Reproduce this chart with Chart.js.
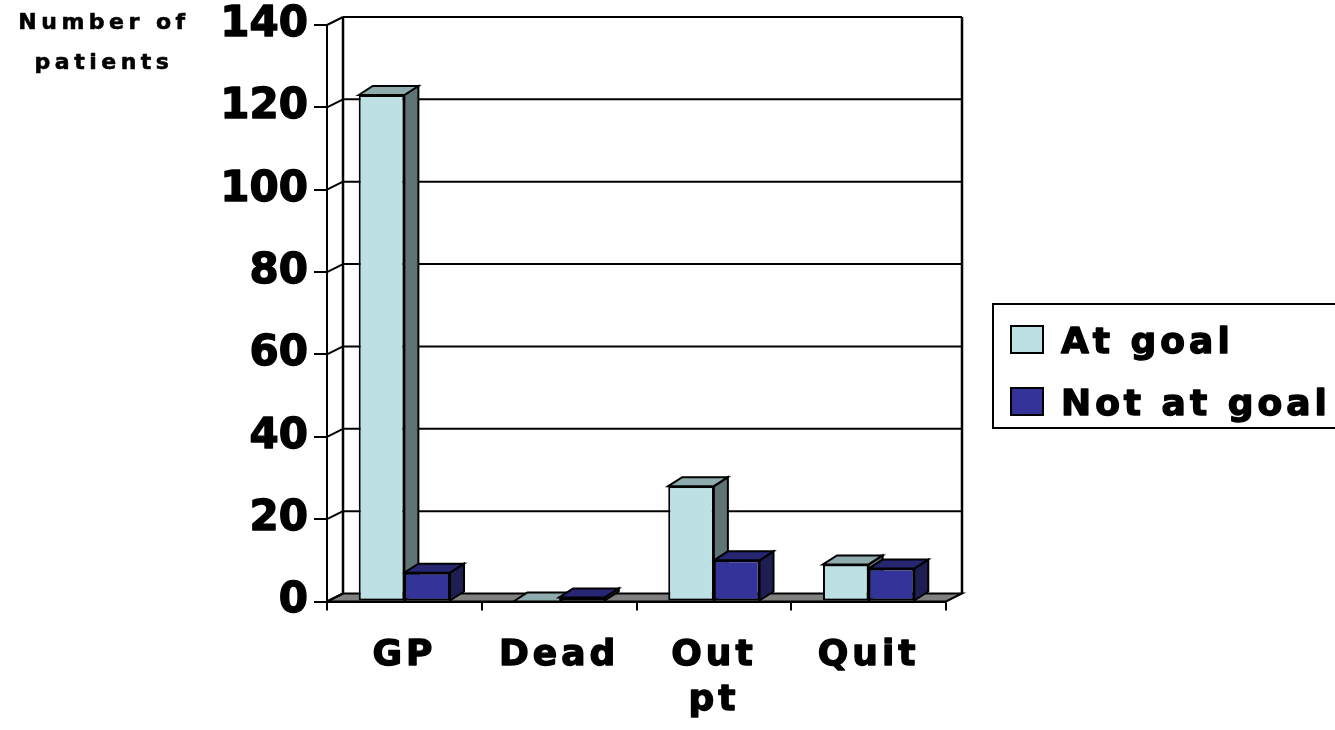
<!DOCTYPE html>
<html>
<head>
<meta charset="utf-8">
<script src="https://cdn.jsdelivr.net/npm/chart.js@4/dist/chart.umd.min.js"></script>
<style>
  html, body { margin: 0; padding: 0; background: #fff; }
  #wrap { position: relative; width: 1335px; height: 730px; }
</style>
</head>
<body>
<div id="wrap"><canvas id="c"></canvas></div>
<script>
// ---- data ----
const categories = ['GP', 'Dead', ['Out', 'pt'], 'Quit'];
const seriesNames = ['At goal', 'Not at goal'];
const atGoal = [123, 0, 28, 9];
const notAtGoal = [7, 1, 10, 8];
const yTicks = [0, 20, 40, 60, 80, 100, 120, 140];
const axisTitle = ['Number of', 'patients'];

// ---- look ----
const FONT = "'DejaVu Sans', 'Liberation Sans', sans-serif";
const faces = [
  { front: '#bce0e3', top: '#8eabad', side: '#607475' },
  { front: '#333399', top: '#262673', side: '#1e1e52' }
];
const WALL = { dx: 16, dy: -8 };   // depth of the back wall / floor
const BAR = { dx: 14, dy: -9 };    // depth of each column
const INK = '#000';
const HEAVY = 1.4;                 // outline width that thickens the lettering

// category axis whose labels are drawn with extra letter spacing
const CategoryBase = Chart.registry.getScale('category');
class SpacedCategoryScale extends CategoryBase {
  drawLabels(area) {
    const ctx = this.ctx;
    ctx.save();
    ctx.letterSpacing = '4px';
    ctx.lineJoin = 'round';
    super.drawLabels(area);
    ctx.restore();
  }
}
SpacedCategoryScale.id = 'spacedCategory';
SpacedCategoryScale.defaults = {};
Chart.register(SpacedCategoryScale);

function seg(ctx, x1, y1, x2, y2) {
  ctx.beginPath(); ctx.moveTo(x1, y1); ctx.lineTo(x2, y2); ctx.stroke();
}
function poly(ctx, pts, fill) {
  ctx.beginPath();
  ctx.moveTo(pts[0][0], pts[0][1]);
  for (let i = 1; i < pts.length; i++) ctx.lineTo(pts[i][0], pts[i][1]);
  ctx.closePath();
  ctx.fillStyle = fill; ctx.fill(); ctx.stroke();
}
function heavyText(ctx, text, x, y) {
  ctx.fillText(text, x, y);
  ctx.strokeText(text, x, y);
}

// walls, floor, column tops/sides, legend and the axis caption
const box3d = {
  id: 'box3d',
  beforeDraw(chart) {
    const { ctx, chartArea: a, scales: { y } } = chart;
    ctx.lineJoin = 'round';
    const L = a.left, R = a.right;
    const B = y.getPixelForValue(yTicks[0]);
    const T = y.getPixelForValue(yTicks[yTicks.length - 1]);
    ctx.save();
    ctx.lineWidth = 2; ctx.strokeStyle = INK; ctx.lineJoin = 'miter';
    poly(ctx, [[L, B], [R, B], [R + WALL.dx, B + WALL.dy], [L + WALL.dx, B + WALL.dy]], '#808080');
    yTicks.forEach(v => {
      const py = y.getPixelForValue(v);
      seg(ctx, L, py, L + WALL.dx, py + WALL.dy);
      if (v !== yTicks[0]) seg(ctx, L + WALL.dx, py + WALL.dy, R + WALL.dx, py + WALL.dy);
    });
    ctx.lineWidth = 2.5;
    seg(ctx, L + WALL.dx, T + WALL.dy, L + WALL.dx, B + WALL.dy);
    seg(ctx, R + WALL.dx, T + WALL.dy, R + WALL.dx, B + WALL.dy);
    ctx.restore();
  },
  beforeDatasetsDraw(chart) {
    const ctx = chart.ctx;
    ctx.save();
    ctx.lineWidth = 2; ctx.strokeStyle = INK; ctx.lineJoin = 'miter';
    chart.data.datasets.forEach((ds, i) => {
      const f = faces[i];
      chart.getDatasetMeta(i).data.forEach(el => {
        const { x, y, base, width } = el.getProps(['x', 'y', 'base', 'width'], true);
        const l = x - width / 2, r = x + width / 2;
        poly(ctx, [[r, y], [r + BAR.dx, y + BAR.dy], [r + BAR.dx, base + BAR.dy], [r, base]], f.side);
        poly(ctx, [[l, y], [l + BAR.dx, y + BAR.dy], [r + BAR.dx, y + BAR.dy], [r, y]], f.top);
      });
    });
    ctx.restore();
  },
  afterDraw(chart) {
    const ctx = chart.ctx;
    ctx.save();
    // caption
    ctx.fillStyle = INK; ctx.strokeStyle = INK;
    ctx.lineJoin = 'round';
    ctx.lineWidth = 0.6;
    ctx.font = `bold 22px ${FONT}`;
    ctx.letterSpacing = '4.5px';
    ctx.textAlign = 'center';
    ctx.textBaseline = 'alphabetic';
    heavyText(ctx, axisTitle[0], 104, 29);
    heavyText(ctx, axisTitle[1], 104, 69);
    // legend
    ctx.lineJoin = 'miter';
    ctx.lineWidth = 2;
    ctx.fillStyle = '#fff';
    ctx.fillRect(993, 304, 360, 124);
    ctx.strokeRect(993, 304, 360, 124);
    ctx.font = `bold 36px ${FONT}`;
    ctx.letterSpacing = '4px';
    ctx.textAlign = 'left';
    const rows = [339, 401];
    chart.data.datasets.forEach((ds, i) => {
      const cy = rows[i];
      ctx.lineWidth = 2; ctx.lineJoin = 'miter';
      ctx.fillStyle = ds.backgroundColor;
      ctx.fillRect(1011, cy - 13, 32, 27);
      ctx.strokeRect(1011, cy - 13, 32, 27);
      ctx.fillStyle = INK;
      ctx.lineWidth = HEAVY; ctx.lineJoin = 'round';
      heavyText(ctx, ds.label, 1061, cy + 14);
    });
    ctx.restore();
  }
};

new Chart(document.getElementById('c'), {
  type: 'bar',
  data: {
    labels: categories,
    datasets: [
      { label: seriesNames[0], data: atGoal, backgroundColor: faces[0].front },
      { label: seriesNames[1], data: notAtGoal, backgroundColor: faces[1].front }
    ]
  },
  options: {
    responsive: true,
    maintainAspectRatio: false,
    animation: false,
    layout: { padding: { left: 0, top: 25, right: 389, bottom: 0 } },
    datasets: {
      bar: {
        categoryPercentage: 0.59,
        barPercentage: 1.0,
        borderColor: INK,
        borderWidth: 2,
        borderSkipped: false
      }
    },
    plugins: { legend: { display: false }, tooltip: { enabled: false } },
    scales: {
      x: {
        type: 'spacedCategory',
        offset: true,
        grid: { offset: true, drawOnChartArea: false, color: INK, lineWidth: 2, tickLength: 9 },
        border: { color: INK, width: 2 },
        ticks: {
          color: INK,
          padding: 23,
          textStrokeColor: INK,
          textStrokeWidth: HEAVY,
          font: { family: FONT, size: 36, weight: 'bold', lineHeight: 1.25 }
        },
        afterFit(s) { s.height = 128.5; s.paddingLeft = 0; s.paddingRight = 0; }
      },
      y: {
        min: yTicks[0],
        max: yTicks[yTicks.length - 1],
        afterBuildTicks(s) { s.ticks = yTicks.map(v => ({ value: v })); },
        grid: { drawOnChartArea: false, color: INK, lineWidth: 2, tickLength: 13 },
        border: { color: INK, width: 2 },
        ticks: {
          color: INK,
          padding: 6,
          textStrokeColor: INK,
          textStrokeWidth: HEAVY,
          font: { family: FONT, size: 42, weight: 'bold' }
        },
        afterFit(s) { s.width = 327; s.paddingTop = 0; s.paddingBottom = 0; }
      }
    }
  },
  plugins: [box3d]
});
</script>
</body>
</html>
